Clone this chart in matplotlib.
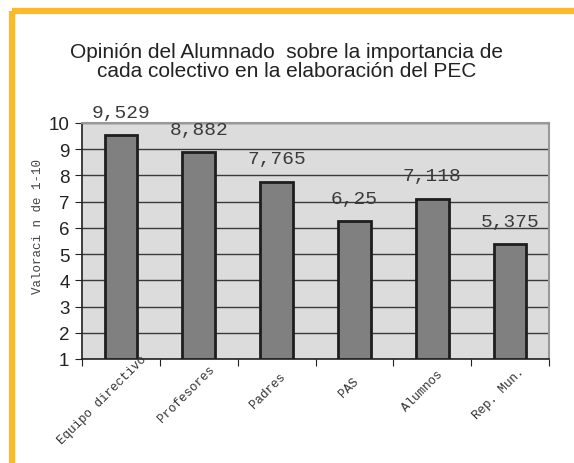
import numpy as np
import matplotlib
matplotlib.use("Agg")
import matplotlib.pyplot as plt
from matplotlib.lines import Line2D
from matplotlib.transforms import offset_copy

# -------- DATA --------
categorias = ["Equipo directivo", "Profesores", "Padres", "PAS", "Alumnos", "Rep. Mun."]
valores = [9.529, 8.882, 7.765, 6.25, 7.118, 5.375]
etiquetas = ["9,529", "8,882", "7,765", "6,25", "7,118", "5,375"]
yticks = list(range(1, 11))
titulo = "Opinión del Alumnado  sobre la importancia de\ncada colectivo en la elaboración del PEC"
ylabel = "Valoraci n de 1-10"
# ----------------------

W, H = 574, 464
fig = plt.figure(figsize=(W / 100, H / 100), dpi=100)
fig.patch.set_facecolor("white")

# orange frame (top and left edges)
naranja = "#FDB92C"
fig.add_artist(Line2D([12 / W, 1], [1 - 12 / H, 1 - 12 / H], transform=fig.transFigure,
                      color=naranja, lw=4.5, solid_capstyle="butt"))
fig.add_artist(Line2D([12 / W, 12 / W], [0, 1 - 12 / H], transform=fig.transFigure,
                      color=naranja, lw=4.5, solid_capstyle="butt"))

fig.text(0.5, 1 - 62 / H, titulo, ha="center", va="center", fontsize=15,
         family="Liberation Sans", color="#222222", linespacing=1.0)

ax = fig.add_axes([82 / W, 1 - 360 / H, (549 - 82) / W, (360 - 124) / H])
ax.set_facecolor("#DCDCDC")

x = np.arange(len(categorias))
ax.bar(x, [v - 1 for v in valores], bottom=1, width=0.42, color="#808080",
       edgecolor="#1e1e1e", linewidth=2, zorder=3)

for xi, v, lab in zip(x, valores, etiquetas):
    ax.annotate(lab, (xi, v), xytext=(0, 10.5), textcoords="offset points",
                ha="center", va="bottom", fontsize=14, family="Liberation Mono",
                color="#3a3a3a", zorder=4)

ax.set_xlim(-0.5, len(categorias) - 0.5)
ax.set_ylim(1, 10)
ax.set_yticks(yticks)
ax.set_yticklabels([str(t) for t in yticks], fontsize=13.5, family="Liberation Sans",
                   color="#222222")
ax.yaxis.grid(True, color="#3a3a3a", linewidth=1, zorder=1)
ax.set_axisbelow(True)

# x ticks at category boundaries
ax.set_xticks(np.arange(len(categorias) + 1) - 0.5)
ax.set_xticklabels([])
ax.tick_params(axis="x", length=5, direction="out", color="#222222")
ax.tick_params(axis="y", length=5, direction="out", color="#222222", pad=4)

# rotated category labels, placed like the spreadsheet does (longer ones sit higher)
trans = ax.get_xaxis_transform()
char_px = 7.5
for xi, lab in zip(x, categorias):
    shift = 0.226 * len(lab) * char_px
    t = offset_copy(trans, fig=fig, x=-3 + shift, y=-25 + shift, units="dots")
    ax.text(xi, 0, lab, transform=t, rotation=45, ha="right", va="center",
            rotation_mode="anchor", fontsize=9, family="Liberation Mono",
            color="#333333", clip_on=False)

for s in ["left", "bottom"]:
    ax.spines[s].set_color("#222222")
    ax.spines[s].set_linewidth(1.2)
for s in ["top", "right"]:
    ax.spines[s].set_color("#999999")
    ax.spines[s].set_linewidth(1.5)

fig.text(38 / W, 1 - 227 / H, ylabel, rotation=90, ha="center", va="center",
         fontsize=9, family="Liberation Mono", color="#444444")

fig.savefig("out.png", dpi=100)
